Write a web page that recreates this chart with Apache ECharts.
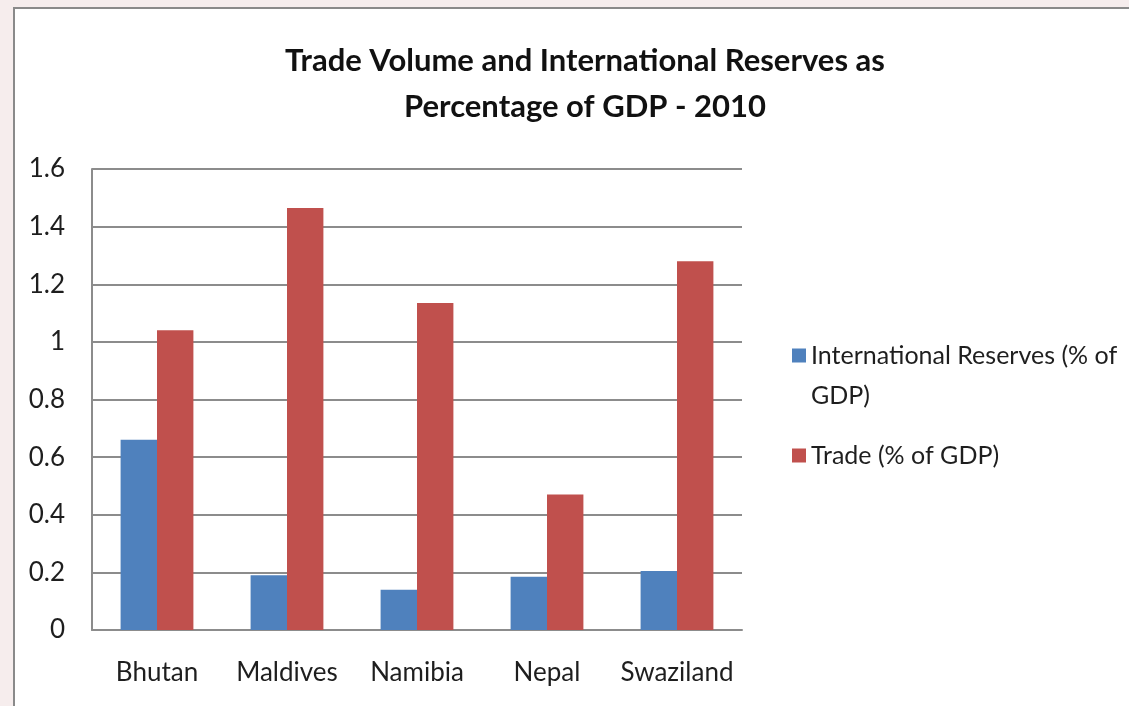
<!DOCTYPE html>
<html>
<head>
<meta charset="utf-8">
<script src="https://cdn.jsdelivr.net/npm/echarts@6/dist/echarts.min.js"></script>
<style>
  html, body { margin: 0; padding: 0; width: 1129px; height: 706px; overflow: hidden; background: #f6eded; }
  #frame { position: absolute; left: 13px; top: 7px; width: 1120px; height: 710px; background: #fff;
           border-left: 2px solid #8a8a8a; border-top: 2px solid #8a8a8a; }
  #main { position: absolute; left: 0; top: 1px; width: 1114px; height: 696px; }
</style>
</head>
<body>
<div id="frame"><div id="main"></div></div>
<script>
var categories = ['Bhutan', 'Maldives', 'Namibia', 'Nepal', 'Swaziland'];
var reserves = [0.66, 0.19, 0.14, 0.185, 0.205];
var trade = [1.04, 1.465, 1.135, 0.47, 1.28];
var seriesNames = ['International Reserves (% of GDP)', 'Trade (% of GDP)'];
var yTicks = { min: 0, max: 1.6, interval: 0.2 };

var chart = echarts.init(document.getElementById('main'));
var fontFam = 'Lato';
var txt = '#1e1e1e';

option = {
  animation: false,
  title: {
    text: 'Trade Volume and International Reserves as\nPercentage of GDP - 2010',
    left: 565,
    textAlign: 'center',
    top: 23,
    textStyle: {
      fontFamily: fontFam,
      fontSize: 31,
      fontWeight: 'bold',
      color: '#111',
      lineHeight: 46
    }
  },
  grid: {
    left: 77,
    top: 159,
    right: 387,
    bottom: 76
  },
  legend: [
    {
      data: [seriesNames[0]],
      left: 772,
      top: 288,
      itemWidth: 14,
      itemHeight: 14,
      icon: 'rect',
      // blank first line so the marker sits beside the first text line
      formatter: function (n) { return '{a|}\n{a|International Reserves (% of}\n{a|GDP)}'; },
      textStyle: {
        fontFamily: fontFam, fontSize: 25, color: txt,
        rich: { a: { fontFamily: fontFam, fontSize: 25, color: txt, lineHeight: 40 } }
      }
    },
    {
      data: [seriesNames[1]],
      left: 772,
      top: 428,
      itemWidth: 14,
      itemHeight: 14,
      icon: 'rect',
      textStyle: { fontFamily: fontFam, fontSize: 25, color: txt }
    }
  ],
  xAxis: {
    type: 'category',
    data: categories,
    axisTick: { show: false },
    axisLine: { lineStyle: { color: '#8c8c8c', width: 2 } },
    axisLabel: {
      interval: 0,
      fontFamily: fontFam,
      fontSize: 26,
      color: txt,
      margin: 30
    }
  },
  yAxis: {
    type: 'value',
    min: yTicks.min,
    max: yTicks.max,
    interval: yTicks.interval,
    axisLine: { show: true, lineStyle: { color: '#8c8c8c', width: 2 } },
    axisTick: { show: false },
    splitLine: { lineStyle: { color: '#8c8c8c', width: 2 } },
    axisLabel: {
      fontFamily: fontFam,
      fontSize: 26,
      color: txt,
      margin: 27,
      formatter: function (v) { return String(Math.round(v * 10) / 10); }
    }
  },
  series: [
    {
      name: seriesNames[0],
      type: 'bar',
      data: reserves,
      barGap: '0%',
      barCategoryGap: '44%',
      itemStyle: { color: '#4f81bd' }
    },
    {
      name: seriesNames[1],
      type: 'bar',
      data: trade,
      barGap: '0%',
      barCategoryGap: '44%',
      itemStyle: { color: '#c0504d' }
    }
  ]
};

if (option && typeof option === "object") {
  chart.setOption(option, true);
}
</script>
</body>
</html>
